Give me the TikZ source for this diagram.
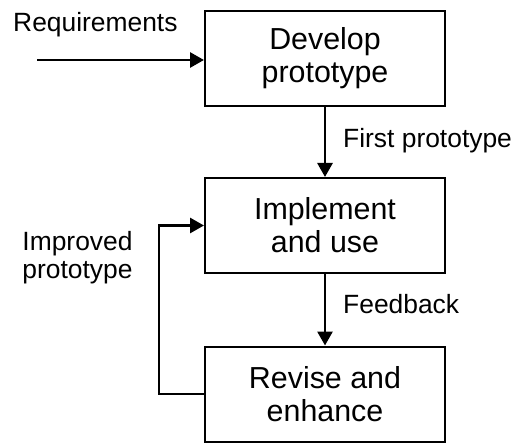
\documentclass[tikz,border=0pt]{standalone}
\usepackage{fontspec}
\setmainfont{Liberation Sans}
\usetikzlibrary{arrows.meta}
\begin{document}
\begin{tikzpicture}[x=1bp,y=-1bp,
  stagebox/.style={draw=black,line width=2bp,minimum width=240bp,minimum height=95bp,
    align=center,inner sep=0pt,font=\fontsize{30.5}{33}\selectfont},
  flow/.style={line width=2.75bp,-{Triangle[length=14bp,width=15bp]}},
  lbl/.style={inner sep=0pt,font=\fontsize{26.5}{28}\selectfont}]
  \useasboundingbox (0,0) rectangle (523,445);
  % process stages
  \node[stagebox] (dev) at (325,58.5) {Develop\\prototype};
  \node[stagebox] (imp) at (325,225.5) {Implement\\and use};
  \node[stagebox] (rev) at (325,394) {Revise and\\enhance};
  % incoming requirements
  \coordinate (req) at (37,60);
  \draw[flow] (req) -- (req -| dev.west);
  \node[lbl,anchor=base west] (reqlbl) at (13,32) {Requirements};
  % main flow
  \draw[flow] (dev) -- (imp);
  \draw[flow] (imp) -- (rev);
  \node[lbl,anchor=base west] (firstlbl) at (343,148) {First prototype};
  \node[lbl,anchor=base west] (fblbl) at (343,313) {Feedback};
  % iteration loop
  \coordinate (loopx) at (159,0);
  \draw[flow] (rev.west) -- (rev.west -| loopx) -- (imp.west -| loopx) -- (imp.west);
  \node[lbl,align=center,anchor=base] (implbl) at (77.5,278) {Improved\\prototype};
\end{tikzpicture}
\end{document}
